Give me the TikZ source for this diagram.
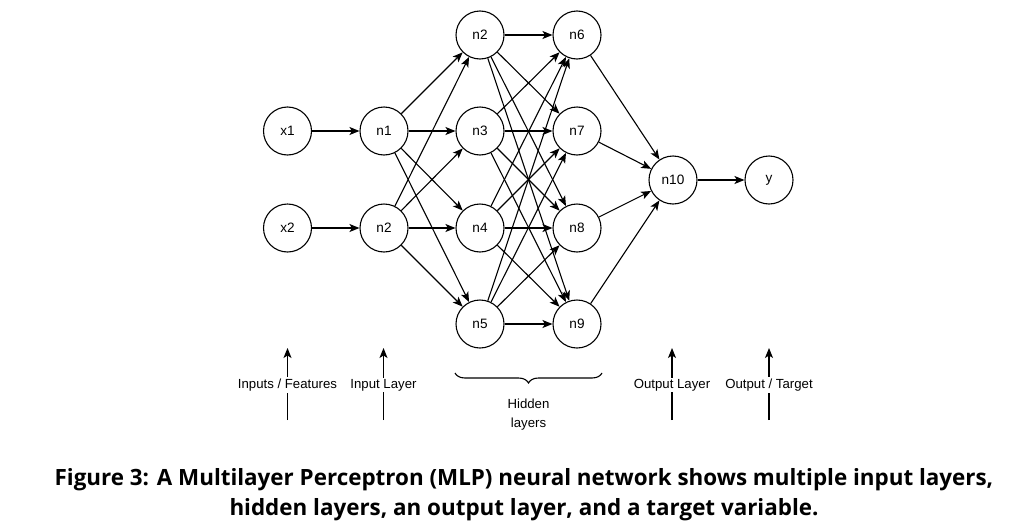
\documentclass[tikz,border=0pt]{standalone}
\usepackage{fontspec}
\setmainfont{Liberation Sans}
\newfontfamily\capfont{Open Sans}
\usetikzlibrary{arrows.meta,decorations.pathreplacing}
\begin{document}
\begin{tikzpicture}[x=1pt,y=-1pt,
  neuron/.style={circle,draw,line width=1.1pt,minimum size=48pt,inner sep=0pt,font=\fontsize{13.6}{15}\selectfont},
  conn/.style={line width=1.1pt,-{Stealth[length=10pt,width=8pt,inset=2.5pt]}},
  lbl/.style={font=\fontsize{13.2}{15}\selectfont,fill=white,inner sep=1.5pt},
  capt/.style={font=\capfont\bfseries\fontsize{22.4}{30}\selectfont,align=center}]
\useasboundingbox (0,0) rectangle (1024,530);
\node[neuron] (x1) at (287.5,131) {x1};
\node[neuron] (x2) at (287.5,228) {x2};
\node[neuron] (i1) at (384,131) {n1};
\node[neuron] (i2) at (384,228) {n2};
\node[neuron] (h2) at (480,35) {n2};
\node[neuron] (h3) at (480,131) {n3};
\node[neuron] (h4) at (480,228) {n4};
\node[neuron] (h5) at (480,324) {n5};
\node[neuron] (h6) at (577,35) {n6};
\node[neuron] (h7) at (577,131) {n7};
\node[neuron] (h8) at (577,228) {n8};
\node[neuron] (h9) at (577,324) {n9};
\node[neuron] (o) at (673,180) {n10};
\node[neuron] (y) at (769,180) {y};
\draw[conn] (x1) -- (i1);
\draw[conn] (x2) -- (i2);
\foreach \a in {i1,i2} \foreach \b in {h2,h3,h4,h5} \draw[conn] (\a) -- (\b);
\foreach \a in {h2,h3,h4,h5} \foreach \b in {h6,h7,h8,h9} \draw[conn] (\a) -- (\b);
\foreach \a in {h6,h7,h8,h9} \draw[conn] (\a) -- (o);
\draw[conn] (o) -- (y);
% bottom labels
\foreach \xx/\nm/\tx in {287.5/a/{Inputs / Features},383.5/b/{Input Layer},672/c/{Output Layer},769/d/{Output / Target}}{
  \coordinate (s\nm) at (\xx,420);
  \coordinate (e\nm) at (\xx,348);
  \draw[conn] (s\nm) -- (e\nm);
  \node[lbl] (l\nm) at (\xx,385) {\tx};
}
\coordinate (bl) at (455,373);
\coordinate (br) at (602,373);
\draw[line width=1.1pt,decorate,decoration={brace,mirror,amplitude=10pt,aspect=0.5}] (bl) -- (br);
\node[font=\fontsize{13.2}{19}\selectfont,align=center] (hl) at (528.5,415) {Hidden\\layers};
\node[capt] (cap) at (524,495) {Figure 3: A Multilayer Perceptron (MLP) neural network shows multiple input layers,\\hidden layers, an output layer, and a target variable.};
\end{tikzpicture}
\end{document}
